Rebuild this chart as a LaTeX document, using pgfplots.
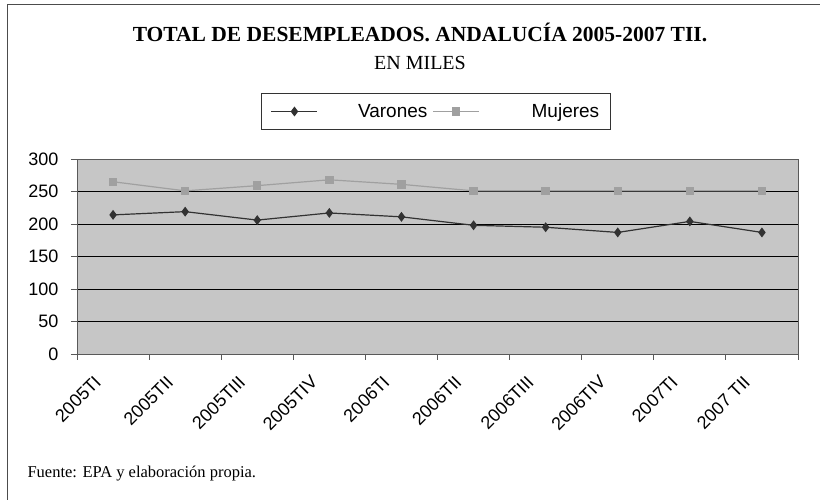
\documentclass[border=0pt]{standalone}
\usepackage{pgfplots}
\pgfplotsset{compat=1.18}
\usepackage{fontspec}
\setmainfont{Liberation Serif}
\newfontfamily\arial{Liberation Sans}
\definecolor{plotbg}{RGB}{198,198,198}
\definecolor{varc}{RGB}{50,50,50}
\definecolor{mujc}{RGB}{160,160,160}
\begin{document}
\begin{tikzpicture}[x=1pt,y=1pt]
\path[use as bounding box] (0,0) rectangle (820,500);
\draw[line width=1pt, black!70] (7,-5) -- (7,495) -- (825,495);
\node[anchor=base, font=\bfseries\fontsize{21.5}{24}\selectfont] at (420,458) {TOTAL DE DESEMPLEADOS. ANDALUCÍA 2005-2007 TII.};
\node[anchor=base, font=\fontsize{20}{24}\selectfont] at (420,430) {EN MILES};
\node[anchor=base west, font=\fontsize{16.5}{20}\selectfont] at (24,22) {Fuente: EPA y elaboración propia.};
\begin{axis}[
  at={(77pt,146pt)}, anchor=south west,
  scale only axis, width=721pt, height=195pt,
  xmin=-0.5, xmax=9.5, ymin=0, ymax=300,
  axis background/.style={fill=plotbg},
  axis line style={draw=black!65, line width=0.8pt},
  ytick={0,50,...,300},
  ymajorgrids, grid style={black, line width=0.9pt},
  xtick={-0.5,0.5,...,9.5}, xticklabels={},
  extra x ticks={0,1,...,9},
  extra x tick labels={2005TI,2005TII,2005TIII,2005TIV,2006TI,2006TII,2006TIII,2006TIV,2007TI,2007 TII},
  extra x tick style={major tick length=0pt, xmajorgrids=false,
    xticklabel style={anchor=east, rotate=45, xshift=-25pt, yshift=-7pt, font=\arial\fontsize{18}{18}\selectfont}},
  tick align=outside, major tick length=6pt,
  tick style={draw=black!65, line width=0.8pt},
  xtick pos=bottom, ytick pos=left,
  yticklabel style={font=\arial\fontsize{18}{18}\selectfont, xshift=-9pt},
  /pgf/number format/assume math mode=true,
  legend columns=2,
  legend style={at={(0.498,1.2436)}, anchor=center, draw=black!80, line width=0.8pt, fill=white,
    font=\arial\fontsize{19}{19}\selectfont, inner xsep=9pt, inner ysep=4pt,
    nodes={inner ysep=6pt},
    /tikz/every even column/.append style={column sep=3pt}},
  legend image code/.code={\draw[#1, mark repeat=2, mark phase=2] plot coordinates {(0pt,0pt) (23pt,0pt) (46pt,0pt)};},
]
\addplot[color=varc, line width=1.2pt, mark=diamond*, mark size=4pt, mark options={fill=varc, draw=varc}]
  coordinates {(0,214) (1,219) (2,206) (3,217) (4,211) (5,198) (6,195) (7,187) (8,204) (9,187)};
\addlegendentry{\hspace{38pt}Varones}
\addplot[color=mujc, line width=1.2pt, mark=square*, mark size=3.6pt, mark options={fill=mujc, draw=mujc}]
  coordinates {(0,265) (1,251) (2,259) (3,268) (4,261) (5,251) (6,251) (7,251) (8,251) (9,251)};
\addlegendentry{\hspace{50pt}Mujeres}
\end{axis}
\end{tikzpicture}
\end{document}
